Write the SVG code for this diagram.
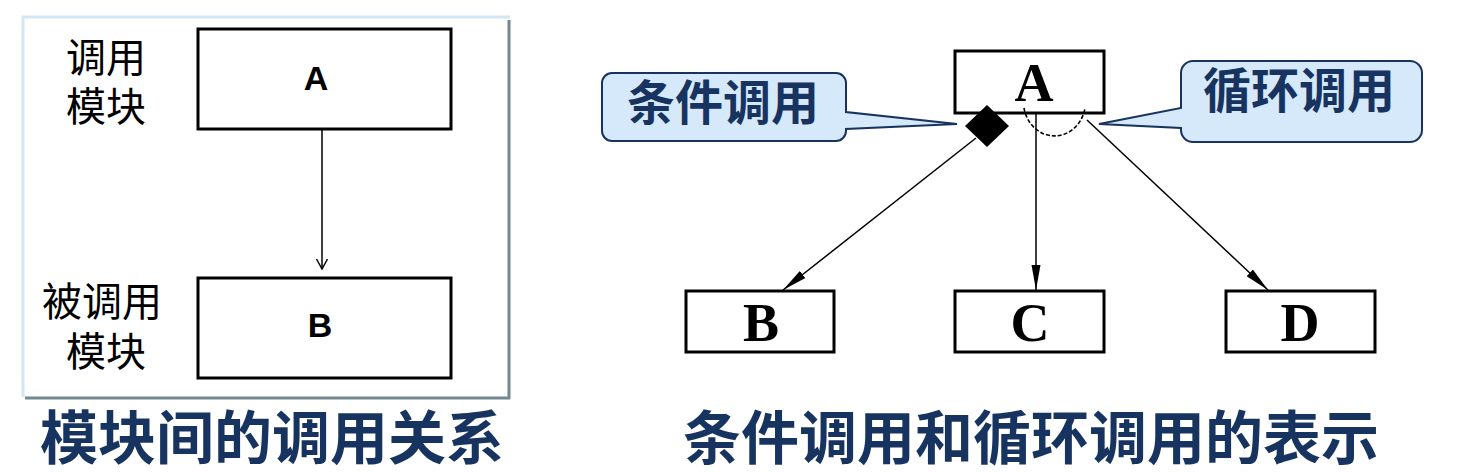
<svg xmlns="http://www.w3.org/2000/svg" width="1458" height="472" viewBox="0 0 1458 472">
<style>
.box{fill:#fff;stroke:#000;stroke-width:3}
.lbl{font-family:"Noto Sans CJK SC",sans-serif;font-size:40px;fill:#000}
.sans{font-family:"Liberation Sans",Arial,sans-serif;font-weight:bold;font-size:34px;fill:#000;text-anchor:middle}
.serif{font-family:"Liberation Serif","Times New Roman",serif;font-weight:bold;font-size:54px;fill:#000;text-anchor:middle}
.title{font-family:"Noto Sans CJK SC",sans-serif;font-weight:bold;font-size:58px;fill:#17335f;text-anchor:middle}
.call{fill:#d5e9fa;stroke:#17335f;stroke-width:2}
.calltxt{font-family:"Noto Sans CJK SC",sans-serif;font-weight:bold;font-size:48px;fill:#17335f;text-anchor:middle}
.conn{stroke:#000;stroke-width:1.5;fill:none}
</style>
<defs>
<marker id="open" markerWidth="14" markerHeight="14" refX="12" refY="7" orient="auto" markerUnits="userSpaceOnUse" viewBox="0 0 14 14">
<path d="M2,1.5 L12,7 L2,12.5" fill="none" stroke="#000" stroke-width="1.5"/>
</marker>
<marker id="fill" markerWidth="26" markerHeight="12" refX="25" refY="6" orient="auto" markerUnits="userSpaceOnUse" viewBox="0 0 26 12">
<path d="M0,1.5 L25,6 L0,10.5 Z" fill="#000"/>
</marker>
</defs>
<rect width="1458" height="472" fill="#fff"/>
<g id="frame">
<line x1="22" y1="17" x2="510" y2="17" stroke="#d3e6f4" stroke-width="3"/>
<line x1="23" y1="17" x2="23" y2="397" stroke="#d3e6f4" stroke-width="3"/>
<line x1="509" y1="20" x2="509" y2="399" stroke="#738791" stroke-width="3"/>
<line x1="25" y1="398" x2="510" y2="398" stroke="#738791" stroke-width="3"/>
</g>
<g id="left-A">
<rect class="box" x="198" y="29" width="253" height="100"/>
<text class="sans" x="316" y="90">A</text>
</g>
<g id="left-B">
<rect class="box" x="198" y="278" width="253" height="100"/>
<text class="sans" x="320" y="337">B</text>
</g>
<g id="left-labels">
<text class="lbl" x="66" y="72">调用</text>
<text class="lbl" x="66" y="121">模块</text>
<text class="lbl" x="42" y="316">被调用</text>
<text class="lbl" x="66" y="366">模块</text>
</g>
<g id="right-A">
<rect class="box" x="955" y="51" width="149" height="62"/>
<text class="serif" x="1034" y="101">A</text>
</g>
<g id="right-B">
<rect class="box" x="686" y="291" width="148" height="61"/>
<text class="serif" x="761" y="341">B</text>
</g>
<g id="right-C">
<rect class="box" x="955" y="291" width="149" height="61"/>
<text class="serif" x="1030" y="341">C</text>
</g>
<g id="right-D">
<rect class="box" x="1226" y="291" width="149" height="61"/>
<text class="serif" x="1300" y="341">D</text>
</g>
<g id="connectors">
<line class="conn" x1="322" y1="130" x2="322" y2="269" marker-end="url(#open)"/>
<line class="conn" x1="976" y1="138" x2="783" y2="290" marker-end="url(#fill)"/>
<line class="conn" x1="1036" y1="114" x2="1036" y2="290" marker-end="url(#fill)"/>
<line class="conn" x1="1087" y1="120" x2="1268" y2="290" marker-end="url(#fill)"/>
<path d="M1024,108 A31,34 0 0 0 1085,108" fill="none" stroke="#000" stroke-width="1.6" stroke-dasharray="4,2"/>
<path d="M987,105 L1009,126 L987,147 L965,126 Z" fill="#000"/>
</g>
<g id="callout-cond">
<path class="call" d="M612,73 H836 A10,10 0 0 1 846,83 V112 L957,124 L846,129 V131 A10,10 0 0 1 836,141 H612 A10,10 0 0 1 602,131 V83 A10,10 0 0 1 612,73 Z"/>
<text class="calltxt" x="723" y="120">条件调用</text>
</g>
<g id="callout-loop">
<path class="call" d="M1193,61 H1410 A12,12 0 0 1 1422,73 V130 A12,12 0 0 1 1410,142 H1193 A12,12 0 0 1 1181,130 V128 L1099,124 L1181,108 V73 A12,12 0 0 1 1193,61 Z"/>
<text class="calltxt" x="1299" y="108">循环调用</text>
</g>
<g id="titles">
<text class="title" x="272" y="459">模块间的调用关系</text>
<text class="title" x="1031" y="459">条件调用和循环调用的表示</text>
</g>
</svg>
